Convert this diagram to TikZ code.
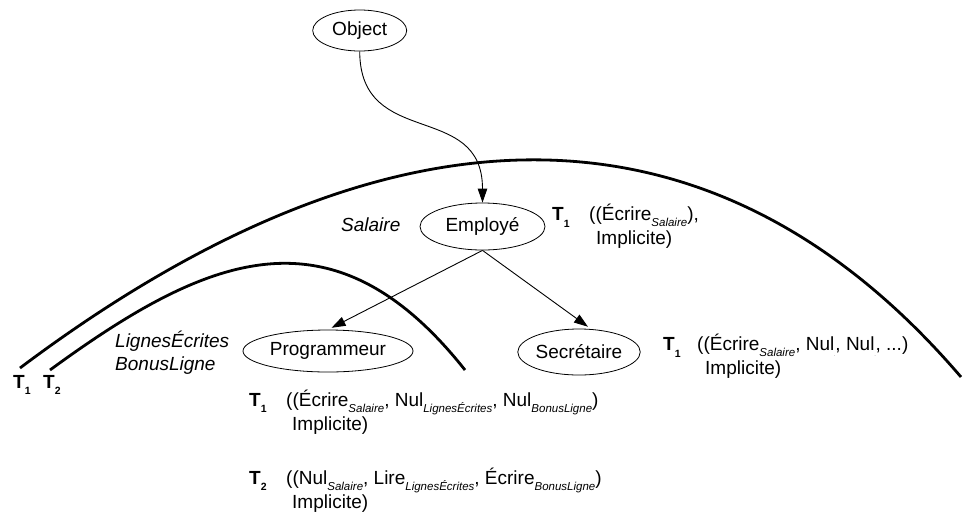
\documentclass[tikz,border=0pt]{standalone}
\usepackage{fontspec}
\setmainfont{Liberation Sans}
\usetikzlibrary{shapes.geometric,arrows.meta}

% small italic index set below the baseline
\newcommand\lsub[1]{\raisebox{-6pt}{\fontsize{11.5}{12}\selectfont\itshape #1}}
% empty index: only a speck remains
\newcommand\dotsub{\raisebox{-6pt}{\fontsize{4}{4}\selectfont .}}
% bold transaction name with its number
\newcommand\tname[1]{\textbf{T}\raisebox{-6.5pt}{\fontsize{10.5}{12}\selectfont\bfseries #1}}

\begin{document}
\begin{tikzpicture}[x=1pt,y=-1pt,
  every node/.style={font=\fontsize{19}{21}\selectfont},
  cls/.style={draw, ellipse, line width=0.8pt, inner sep=0pt},
  lbl/.style={anchor=base west, inner sep=0pt},
  itlbl/.style={lbl, font=\fontsize{19}{21}\selectfont\itshape},
  inherit/.style={-{Triangle[length=14pt,width=9.5pt]}, line width=0.9pt},
  scopeline/.style={line width=2.8pt}]
\useasboundingbox (0,0) rectangle (963,520);

% classes
\node[cls, minimum width=94pt, minimum height=41pt] (obj) at (359.7,30.5) {Object};
\node[cls, minimum width=125pt, minimum height=47pt] (emp) at (482.5,226.5) {Employé};
\node[cls, minimum width=170pt, minimum height=42pt] (prog) at (328,351) {Programmeur};
\node[cls, minimum width=104pt, minimum height=46pt] (sec) at (579,352) {Secrétaire};

% inheritance links
\draw[inherit] (obj.south) .. controls (360,150) and (482.5,100) .. (emp.north);
\draw[inherit, shorten >=4pt] (emp.south) -- (prog.north);
\draw[inherit, shorten >=4pt] (emp.south) -- (sec.62);

% scopes of the two transactions
\draw[scopeline] (20,368) .. controls (395.7,86) and (717,92) .. (961,377);
\draw[scopeline] (50,370) .. controls (206,256) and (332,202) .. (465,370);
\node[lbl] (t1) at (13,388) {\tname{1}};
\node[lbl] (t2) at (43,388) {\tname{2}};

% attributes
\node[itlbl] (salaire) at (341,231) {Salaire};
\node[itlbl] (lignes) at (115,347.5) {LignesÉcrites};
\node[itlbl] (bonus) at (115,370.5) {BonusLigne};

% access modes on Employé
\node[lbl] (empT) at (552,220.5) {\tname{1}};
\node[lbl] (empA) at (589,220.5) {((Écrire\lsub{Salaire}),};
\node[lbl] (empB) at (596,244) {Implicite)};

% access modes on Secrétaire
\node[lbl] (secT) at (663,350.5) {\tname{1}};
\node[lbl] (secA) at (697,350.5) {((Écrire\lsub{Salaire}, Nul\dotsub, Nul\dotsub, ...)};
\node[lbl] (secB) at (705,374) {Implicite)};

% access modes on Programmeur
\node[lbl] (progT) at (249,406) {\tname{1}};
\node[lbl] (progA) at (286,406) {((Écrire\lsub{Salaire}, Nul\lsub{LignesÉcrites}, Nul\lsub{BonusLigne})};
\node[lbl] (progB) at (292,430) {Implicite)};
\node[lbl] (progT2) at (249,484) {\tname{2}};
\node[lbl] (progC) at (286,484) {((Nul\lsub{Salaire}, Lire\lsub{LignesÉcrites}, Écrire\lsub{BonusLigne})};
\node[lbl] (progD) at (292,508) {Implicite)};
\end{tikzpicture}
\end{document}
